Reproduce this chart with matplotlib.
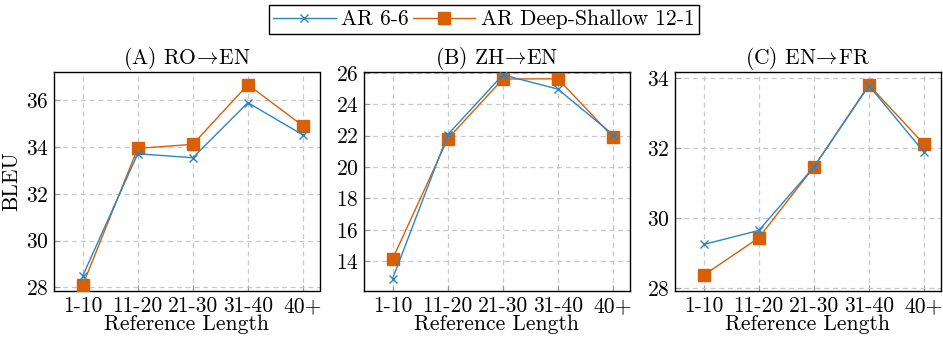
import numpy as np
import matplotlib
matplotlib.use('Agg')
import matplotlib.pyplot as plt

plt.rcParams['font.family'] = ['cmr10', 'DejaVu Serif']
plt.rcParams['mathtext.fontset'] = 'cm'
plt.rcParams['axes.formatter.use_mathtext'] = True

lengths = ['1-10', '11-20', '21-30', '31-40', '40+']
titles = [r'(A) RO$\!\rightarrow\!$EN', r'(B) ZH$\!\rightarrow\!$EN', r'(C) EN$\!\rightarrow\!$FR']

ar66_ro_en = [28.49, 33.71, 33.54, 35.89, 34.51]
ds_ro_en = [28.09, 33.94, 34.11, 36.66, 34.90]
ar66_zh_en = [12.89, 22.06, 25.87, 24.96, 22.06]
ds_zh_en = [14.15, 21.79, 25.60, 25.62, 21.91]
ar66_en_fr = [29.25, 29.65, 31.46, 33.79, 31.89]
ds_en_fr = [28.37, 29.44, 31.46, 33.81, 32.12]

ylims = [(27.85, 37.2), (12.1, 26.05), (27.92, 34.18)]
yticks = [[28, 30, 32, 34, 36], [14, 16, 18, 20, 22, 24, 26], [28, 30, 32, 34]]

blue = '#2a86c6'
orange = '#d95f02'
fs = 15.5

fig = plt.figure(figsize=(9.43, 3.37), dpi=100)
lefts = [54/943, 364/943, 675/943]
axes = [fig.add_axes([l, 46/337, 265.5/943, 219/337]) for l in lefts]

series = [(ar66_ro_en, ds_ro_en), (ar66_zh_en, ds_zh_en), (ar66_en_fr, ds_en_fr)]
x = np.arange(len(lengths))
for i, ax in enumerate(axes):
    a, d = series[i]
    l1, = ax.plot(x, a, color=blue, marker='x', markersize=6, markeredgewidth=1.0, lw=1.0, zorder=4)
    l2, = ax.plot(x, d, color=orange, marker='s', markersize=8, lw=1.0, zorder=3)
    ax.set_xlim(-0.52, 4.30)
    ax.set_ylim(*ylims[i])
    ax.set_xticks(x)
    ax.set_xticklabels(lengths)
    ax.set_yticks(yticks[i])
    ax.grid(True, color='#c8c8c8', linestyle=(0, (4, 3)), lw=0.9)
    ax.tick_params(direction='in', color='#999999', labelsize=fs, length=4, pad=4)
    ax.set_title(titles[i], fontsize=fs, pad=3)
    ax.set_xlabel('Reference Length', fontsize=fs, labelpad=-1)
    for s in ax.spines.values():
        s.set_linewidth(1.0)
axes[0].set_ylabel('BLEU', fontsize=fs, labelpad=3)

fig.legend([l1, l2], ['AR 6-6', 'AR Deep-Shallow 12-1'], loc='center', bbox_to_anchor=(0.513, 0.942),
           ncol=2, fontsize=fs, frameon=True, fancybox=False, edgecolor='black', framealpha=1,
           handlelength=2.9, handletextpad=0.25, columnspacing=0.2, borderpad=0.2,
           borderaxespad=0)

fig.savefig('out.png', dpi=100)
